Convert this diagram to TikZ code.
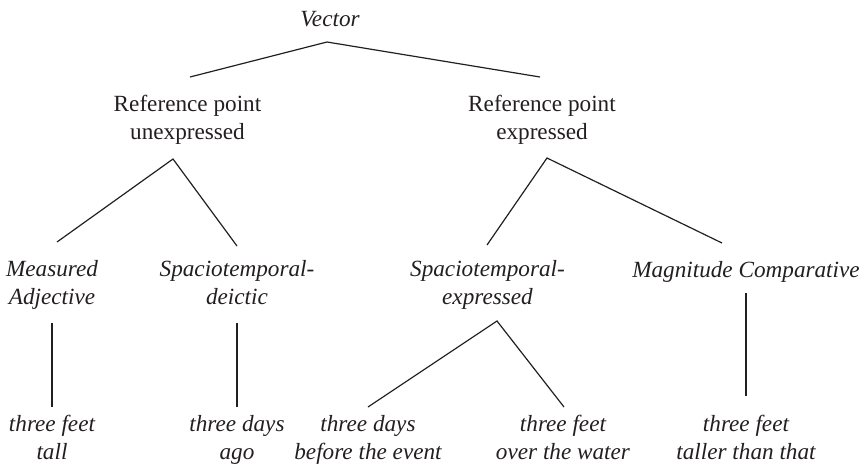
\documentclass[tikz,border=0pt]{standalone}
\usepackage{fontspec}
\setmainfont{Liberation Serif}
\usetikzlibrary{calc}
\definecolor{ink}{RGB}{35,31,32}
\begin{document}
\begin{tikzpicture}[x=0.5pt,y=-0.5pt,
  rmtext/.style={font=\fontsize{11.6}{14.2}\selectfont, text=ink, align=center, inner sep=0pt,
    execute at begin node=\strut, execute at end node=\strut},
  ittext/.style={rmtext, font=\fontsize{11.6}{14.2}\selectfont\itshape},
  branch/.style={draw=ink, line width=0.6pt}]
\useasboundingbox (0,0) rectangle (864,467);

% categories
\node[ittext] (vec) at (330,21.3) {Vector};
\node[rmtext] (rpu) at (187.5,121.3) {Reference point\\unexpressed};
\node[rmtext] (rpe) at (542,121.3) {Reference point\\expressed};
\node[ittext] (ma) at (52,286.8) {Measured\\Adjective};
\node[ittext] (sd) at (237,286.8) {Spaciotemporal-\\deictic};
\node[ittext] (se) at (487.5,286.8) {Spaciotemporal-\\expressed};
\node[ittext] (mc) at (746,272.3) {Magnitude Comparative};

% examples
\node[ittext] (l1) at (52,441.5) {three feet\\tall};
\node[ittext] (l2) at (237,441.5) {three days\\ago};
\node[ittext] (l3) at (368,441.5) {three days\\before the event};
\node[ittext] (l4) at (563,441.5) {three feet\\over the water};
\node[ittext] (l5) at (746,441.5) {three feet\\taller than that};

% branches
\draw[branch] ($(rpu)+(2.5,-44.3)$) -- ($(vec)+(-3,20.7)$) -- ($(rpe)+(-2,-44.3)$);
\draw[branch] ($(ma)+(5,-44.8)$) -- ($(rpu)+(-14.5,37.7)$) -- ($(sd)+(0,-40.8)$);
\draw[branch] ($(se)+(-0.5,-41.8)$) -- ($(rpe)+(5,36.7)$) -- ($(mc)+(-24,-29.3)$);
\draw[branch] ($(ma)+(0,36.2)$) -- ($(l1)+(0,-34.5)$);
\draw[branch] ($(sd)+(0,36.2)$) -- ($(l2)+(0,-34.5)$);
\draw[branch] ($(l3)+(0,-34.5)$) -- ($(se)+(9.5,34.2)$) -- ($(l4)+(1,-34.5)$);
\draw[branch] ($(mc)+(0,20.7)$) -- ($(l5)+(0,-45.5)$);
\end{tikzpicture}
\end{document}
